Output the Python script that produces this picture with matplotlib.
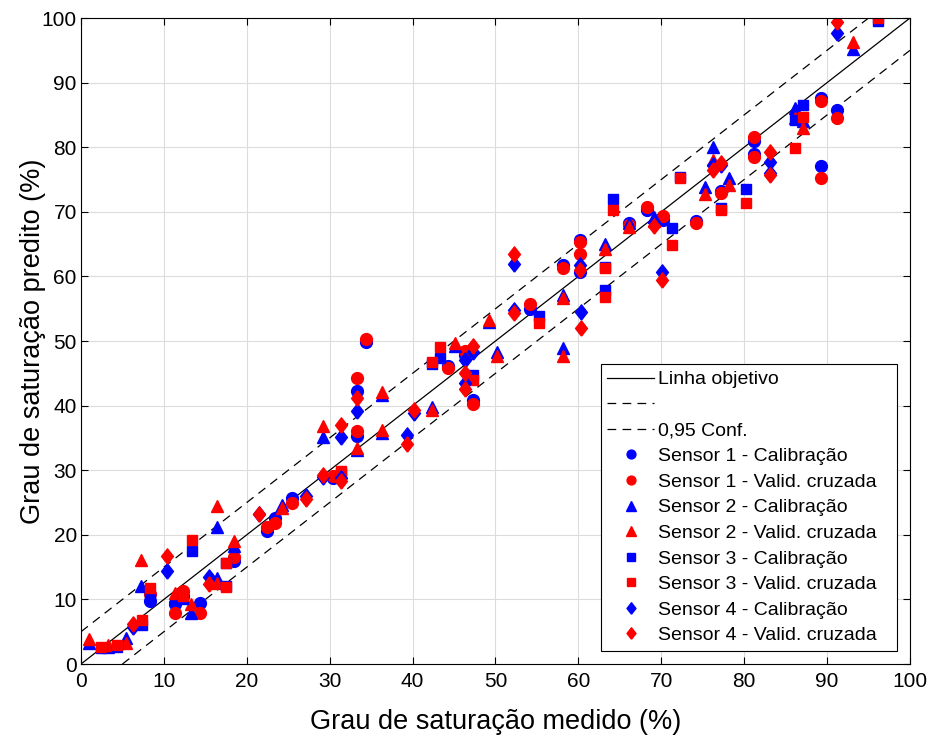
import numpy as np
import matplotlib
matplotlib.use('Agg')
import matplotlib.pyplot as plt
from matplotlib.patches import Rectangle

# measured saturation (x) with predicted values for calibration (cal) and cross validation (val)
s1_x = [8.3, 11.4, 12.3, 14.4, 18.5, 22.4, 23.4, 25.4, 30.4, 33.3, 33.3, 34.4, 44.3, 46.3, 47.3,
        54.2, 58.2, 60.2, 60.2, 66.1, 68.3, 70.2, 74.2, 77.2, 81.2, 81.2, 89.3, 89.3, 91.2]
s1_cal = [9.7, 9.3, 10.6, 9.5, 16.0, 20.6, 22.6, 25.7, 28.8, 35.3, 42.3, 49.8, 46.2, 47.8, 40.9,
          55.0, 61.8, 65.6, 60.7, 68.3, 70.3, 68.8, 68.6, 73.2, 80.9, 78.9, 77.1, 87.6, 85.8]
s1_val = [10.9, 7.9, 11.3, 7.9, 16.6, 21.2, 21.8, 24.9, 29.1, 36.1, 44.3, 50.3, 45.8, 48.5, 40.2,
          55.7, 61.3, 65.3, 63.5, 67.9, 70.8, 69.3, 68.3, 72.9, 81.6, 78.5, 75.2, 87.2, 84.6]

s2_x = [1.0, 3.3, 5.4, 7.2, 11.4, 13.3, 16.4, 16.4, 18.5, 24.3, 29.2, 33.3, 36.3, 36.3, 42.3,
        45.1, 49.2, 50.2, 58.2, 58.2, 63.2, 66.1, 69.1, 75.3, 76.2, 78.2, 86.1, 87.1, 93.1]
s2_cal = [3.3, 2.6, 4.0, 12.1, 10.6, 7.9, 21.2, 13.3, 18.3, 24.6, 35.2, 33.2, 41.7, 35.8, 39.8,
          49.2, 52.9, 48.3, 48.9, 57.2, 65.0, 68.3, 69.2, 73.8, 80.0, 75.2, 86.1, 84.0, 95.2]
s2_val = [3.8, 2.9, 3.3, 16.1, 11.0, 9.3, 24.5, 12.5, 19.0, 24.1, 36.8, 33.4, 42.1, 36.2, 39.3,
          49.7, 53.2, 47.7, 47.7, 56.6, 64.2, 67.6, 68.6, 72.8, 78.0, 74.1, 84.5, 83.0, 96.3]

s3_x = [2.4, 4.3, 7.4, 8.3, 12.3, 13.4, 17.5, 17.5, 31.4, 42.3, 43.3, 47.3, 55.2, 63.2, 63.2,
        64.2, 71.3, 72.3, 77.2, 80.2, 86.1, 87.1, 96.1]
s3_cal = [2.5, 2.7, 6.0, 10.3, 10.0, 17.5, 15.6, 12.0, 29.5, 46.4, 47.4, 44.7, 53.9, 57.9, 61.4,
          72.0, 67.5, 75.4, 70.6, 73.5, 84.2, 86.5, 99.6]
s3_val = [2.7, 2.9, 6.8, 11.8, 10.6, 19.2, 15.6, 11.9, 29.9, 46.8, 49.1, 44.0, 52.8, 56.8, 61.3,
          70.3, 64.8, 75.2, 70.3, 71.4, 79.9, 84.7, 100.0]

s4_x = [6.3, 10.4, 15.4, 21.5, 27.2, 29.2, 31.4, 31.4, 33.3, 39.3, 40.2, 46.3, 46.3, 47.3, 52.2,
        52.2, 60.3, 60.2, 69.1, 70.1, 76.2, 77.2, 83.1, 83.1, 91.2]
s4_cal = [5.7, 14.4, 13.5, 23.2, 26.0, 29.0, 35.1, 28.8, 39.2, 35.4, 38.8, 47.1, 43.5, 48.3, 61.9,
          54.8, 54.5, 61.8, 68.4, 60.7, 77.3, 77.3, 77.7, 76.0, 97.7]
s4_val = [6.2, 16.7, 12.4, 23.3, 25.5, 29.2, 37.0, 28.4, 41.2, 34.1, 39.3, 45.0, 42.6, 49.2, 63.5,
          54.3, 52.0, 61.0, 67.8, 59.4, 76.5, 77.6, 79.2, 75.7, 99.4]

target = [0, 100]
conf = 5

plt.rcParams['font.family'] = ['Liberation Sans', 'DejaVu Sans']

fig = plt.figure(figsize=(9.33, 7.42), dpi=100)
ax = fig.add_axes([0.0868, 0.1051, 0.8885, 0.8706])

# objective line and confidence band
h_obj, = ax.plot(target, target, color='k', lw=0.9)
h_up, = ax.plot([0, 100 - conf], [conf, 100], color='k', lw=0.9, ls=(0, (7, 5)))
h_lo, = ax.plot([conf, 100], [0, 100 - conf], color='k', lw=0.9, ls=(0, (7, 5)))

# MATLAB-like diamond, a bit wider than matplotlib's thin diamond
diamond = [(0, -1), (0.78, 0), (0, 1), (-0.78, 0), (0, -1)]

sensors = [(s1_x, s1_cal, s1_val, 'o', 8.5),
           (s2_x, s2_cal, s2_val, '^', 9),
           (s3_x, s3_cal, s3_val, 's', 7),
           (s4_x, s4_cal, s4_val, diamond, 11)]

handles = [h_obj, h_up, h_lo]
labels = ['Linha objetivo', '', '0,95 Conf.']
for i, (x, cal, val, mk, ms) in enumerate(sensors):
    hc, = ax.plot(x, cal, ls='none', marker=mk, ms=ms, color='b', mec='b')
    hv, = ax.plot(x, val, ls='none', marker=mk, ms=ms, color='r', mec='r')
    handles += [hc, hv]
    labels += [f'Sensor {i + 1} - Calibração', f'Sensor {i + 1} - Valid. cruzada']

ax.set_xlim(0, 100)
ax.set_ylim(0, 100)
ax.set_xticks(np.arange(0, 101, 10))
ax.set_yticks(np.arange(0, 101, 10))
ax.grid(True, color='#dcdcdc', lw=0.8)
ax.set_axisbelow(True)
ax.tick_params(direction='in', top=True, right=True, labelsize=15, length=5, width=0.8)
ax.tick_params(axis='x', pad=6)
ax.tick_params(axis='y', pad=3)
for sp in ax.spines.values():
    sp.set_linewidth(0.8)

ax.set_xlabel('Grau de saturação medido (%)', fontsize=19.5, labelpad=13)
ax.set_ylabel('Grau de saturação predito (%)', fontsize=19.5, labelpad=-3)

leg = ax.legend(handles, labels, loc='lower right', bbox_to_anchor=(0.968, 0.02),
                borderaxespad=0, frameon=False,
                fontsize=14, handlelength=2.4, handletextpad=0.2, labelspacing=0.41,
                borderpad=0.35, markerscale=0.75)

# legend frame with a wider right margin, as in the original
fig.canvas.draw()
bb = leg.get_window_extent().transformed(ax.transAxes.inverted())
frame = Rectangle((bb.x0, bb.y0), 0.984 - bb.x0, bb.height, transform=ax.transAxes,
                  facecolor='white', edgecolor='k', lw=0.8, zorder=4.9)
ax.add_patch(frame)

plt.savefig('out.png', dpi=100)
